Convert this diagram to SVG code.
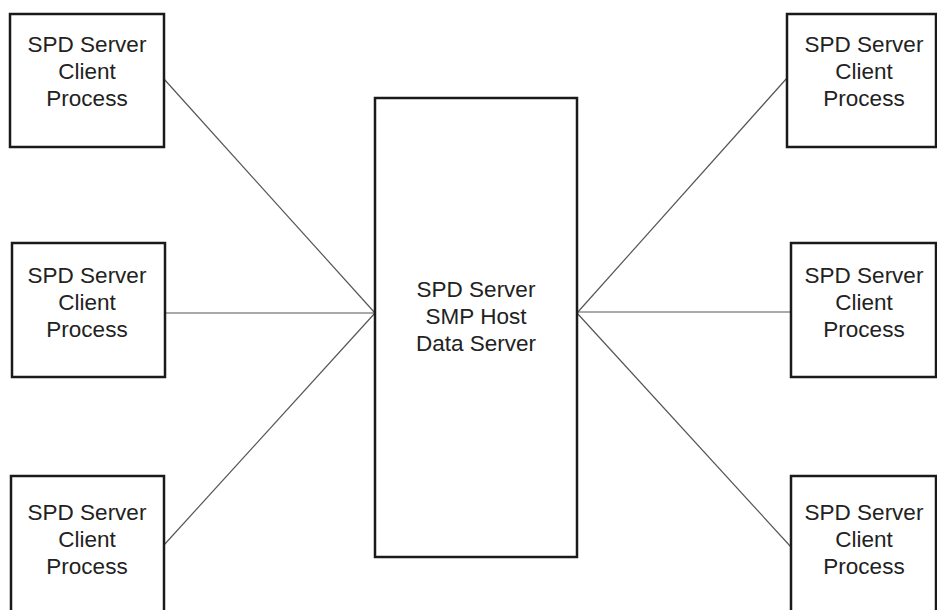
<svg xmlns="http://www.w3.org/2000/svg" width="937" height="610" viewBox="0 0 937 610">
<style>
.box{fill:#fff;stroke:#1a1a1a;stroke-width:2.5}
.lbl{font-family:"Liberation Sans",Arial,sans-serif;font-size:22.5px;fill:#222;text-anchor:middle}
.conn{stroke:#555;stroke-width:1.2;fill:none}
</style>
<rect width="937" height="610" fill="#fff"/>
<g id="connectors">
<line class="conn" x1="164" y1="79" x2="375" y2="313"/>
<line class="conn" x1="165" y1="313" x2="375" y2="313"/>
<line class="conn" x1="164" y1="545" x2="375" y2="313"/>
<line class="conn" x1="787" y1="78" x2="577" y2="313"/>
<line class="conn" x1="791" y1="312" x2="577" y2="312"/>
<line class="conn" x1="791" y1="547" x2="577" y2="313"/>
</g>
<g id="host">
<rect class="box" x="375" y="98" width="202" height="459"/>
<text class="lbl" x="476" y="297">SPD Server</text>
<text class="lbl" x="476" y="324">SMP Host</text>
<text class="lbl" x="476" y="351">Data Server</text>
</g>
<g id="client-l1">
<rect class="box" x="10" y="14" width="154" height="133"/>
<text class="lbl" x="87" y="52">SPD Server</text>
<text class="lbl" x="87" y="79">Client</text>
<text class="lbl" x="87" y="106">Process</text>
</g>
<g id="client-l2">
<rect class="box" x="12" y="243" width="153" height="134"/>
<text class="lbl" x="87" y="283">SPD Server</text>
<text class="lbl" x="87" y="310">Client</text>
<text class="lbl" x="87" y="337">Process</text>
</g>
<g id="client-l3">
<rect class="box" x="11" y="476" width="153" height="150"/>
<text class="lbl" x="87" y="520">SPD Server</text>
<text class="lbl" x="87" y="547">Client</text>
<text class="lbl" x="87" y="574">Process</text>
</g>
<g id="client-r1">
<rect class="box" x="787" y="14" width="149" height="133"/>
<text class="lbl" x="864" y="52">SPD Server</text>
<text class="lbl" x="864" y="79">Client</text>
<text class="lbl" x="864" y="106">Process</text>
</g>
<g id="client-r2">
<rect class="box" x="791" y="243" width="145" height="134"/>
<text class="lbl" x="864" y="283">SPD Server</text>
<text class="lbl" x="864" y="310">Client</text>
<text class="lbl" x="864" y="337">Process</text>
</g>
<g id="client-r3">
<rect class="box" x="791" y="476" width="145" height="150"/>
<text class="lbl" x="864" y="520">SPD Server</text>
<text class="lbl" x="864" y="547">Client</text>
<text class="lbl" x="864" y="574">Process</text>
</g>
</svg>
